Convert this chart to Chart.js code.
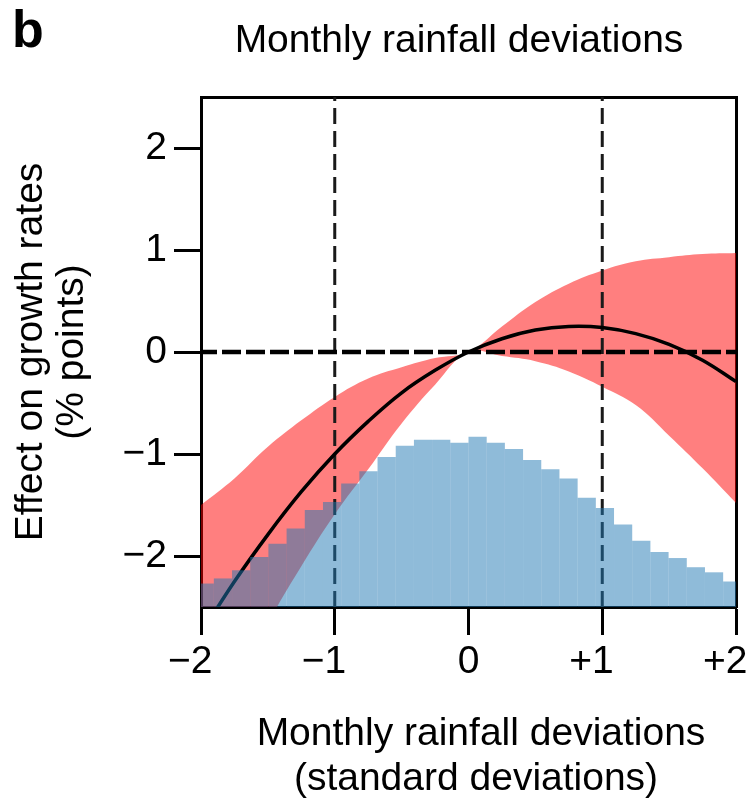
<!DOCTYPE html>
<html>
<head>
<meta charset="utf-8">
<script src="https://cdn.jsdelivr.net/npm/chart.js@4/dist/chart.umd.min.js"></script>
<style>
  html, body { margin: 0; padding: 0; background: #fff; }
  #c { display: block; }
</style>
</head>
<body>
<canvas id="c" width="751" height="802"></canvas>
<script>
// Monthly rainfall deviation grid (standard deviations) for the fitted response
const fitX = [-2, -1.75, -1.5, -1.25, -1, -0.75, -0.5, -0.25, 0, 0.25, 0.5, 0.75, 1, 1.25, 1.5, 1.75, 2];
// Estimated effect on growth rates (% points)
const effect = [-2.76, -2.25, -1.79, -1.37, -1.0, -0.68, -0.40, -0.18, 0, 0.13, 0.215, 0.25, 0.24, 0.18, 0.075, -0.08, -0.29];
// Confidence band
const upperCI = [-1.50, -1.24, -0.93, -0.67, -0.44, -0.26, -0.15, -0.06, 0, 0.25, 0.49, 0.67, 0.80, 0.89, 0.93, 0.96, 0.97];
const lowerCI = [-4.0, -3.3, -2.66, -2.10, -1.59, -1.15, -0.70, -0.32, 0, -0.04, -0.09, -0.19, -0.34, -0.52, -0.82, -1.14, -1.48];

// Distribution of observed monthly rainfall deviations (bin centres, bar tops)
const binCenters = [-1.972, -1.836, -1.700, -1.564, -1.428, -1.292, -1.156, -1.020, -0.884, -0.748,
                    -0.612, -0.476, -0.340, -0.204, -0.068, 0.068, 0.204, 0.340, 0.476, 0.612,
                    0.748, 0.884, 1.020, 1.156, 1.292, 1.428, 1.564, 1.700, 1.836, 1.972];
const binTops = [-2.27, -2.22, -2.14, -2.01, -1.88, -1.73, -1.55, -1.47, -1.29, -1.17,
                 -1.03, -0.92, -0.86, -0.86, -0.89, -0.83, -0.89, -0.95, -1.06, -1.15,
                 -1.24, -1.43, -1.53, -1.69, -1.85, -1.96, -2.02, -2.11, -2.16, -2.25];

const xTicks = [-2, -1, 0, 1, 2];
const yTicks = [-2, -1, 0, 1, 2];
const xRange = [-2, 2];
const yRange = [-2.5, 2.5];
const sdMarkers = [-1, 1];   // ±1 standard deviation
const zeroLine = 0;

const FONT = "'Liberation Sans', Arial, Helvetica, sans-serif";

const pts = (xs, ys) => xs.map((x, i) => ({ x: x, y: ys[i] }));

// Panel letter, heading and x-axis caption
const panelText = {
  id: 'panelText',
  afterDraw(chart) {
    const ctx = chart.ctx;
    ctx.save();
    ctx.fillStyle = '#000';
    ctx.textBaseline = 'alphabetic';
    ctx.textAlign = 'left';
    ctx.font = 'bold 52px ' + FONT;
    ctx.fillText('b', 12, 47);
    ctx.textAlign = 'center';
    ctx.font = '39px ' + FONT;
    ctx.fillText('Monthly rainfall deviations', 459, 52);
    ctx.fillText('Monthly rainfall deviations', 481, 745);
    ctx.fillText('(standard deviations)', 476, 790);
    ctx.restore();
  }
};

// Signed labels keep the digit centred on the tick; a figure space balances the sign
const tickFmtX = v => v < 0 ? '\u2212' + Math.abs(v) + '\u2007' : (v > 0 ? '+' + v + '\u2007' : '0');
const tickFmtY = v => v < 0 ? '\u2212' + Math.abs(v) : String(v);

new Chart(document.getElementById('c'), {
  type: 'line',
  data: {
    datasets: [
      {
        type: 'bar',
        label: 'Rainfall distribution',
        data: pts(binCenters, binTops),
        base: yRange[0],
        backgroundColor: 'rgba(31,120,180,0.5)',
        borderWidth: 0,
        barPercentage: 1,
        categoryPercentage: 1,
        inflateAmount: 0,
        clip: 0,
        order: 0
      },
      {
        label: 'Effect',
        data: pts(fitX, effect),
        borderColor: '#000',
        borderWidth: 3.5,
        pointRadius: 0,
        tension: 0.4,
        fill: false,
        order: 1
      },
      {
        label: 'Zero',
        data: pts(xRange, [zeroLine, zeroLine]),
        borderColor: '#000',
        borderWidth: 4.5,
        borderDash: [19, 5],
        borderDashOffset: 3,
        borderCapStyle: 'butt',
        pointRadius: 0,
        fill: false,
        order: 2
      },
      {
        label: '-1 SD',
        data: pts([sdMarkers[0], sdMarkers[0]], yRange),
        borderColor: '#1a1a1a',
        borderWidth: 3,
        borderDash: [16, 7],
        borderCapStyle: 'butt',
        pointRadius: 0,
        fill: false,
        order: 2
      },
      {
        label: '+1 SD',
        data: pts([sdMarkers[1], sdMarkers[1]], yRange),
        borderColor: '#1a1a1a',
        borderWidth: 3,
        borderDash: [16, 7],
        borderCapStyle: 'butt',
        pointRadius: 0,
        fill: false,
        order: 2
      },
      {
        label: 'Upper',
        data: pts(fitX, upperCI),
        borderWidth: 0,
        borderColor: 'rgba(0,0,0,0)',
        pointRadius: 0,
        tension: 0.4,
        fill: '+1',
        backgroundColor: 'rgba(255,0,0,0.5)',
        order: 3
      },
      {
        label: 'Lower',
        data: pts(fitX, lowerCI),
        borderWidth: 0,
        borderColor: 'rgba(0,0,0,0)',
        pointRadius: 0,
        tension: 0.4,
        fill: false,
        order: 3
      }
    ]
  },
  options: {
    responsive: false,
    animation: false,
    devicePixelRatio: 1,
    layout: { padding: { left: 0, top: 97, right: 15, bottom: 0 } },
    plugins: { legend: { display: false }, tooltip: { enabled: false } },
    scales: {
      x: {
        type: 'linear',
        position: 'bottom',
        z: 1,
        min: xRange[0],
        max: xRange[1],
        offset: false,
        afterBuildTicks: s => { s.ticks = xTicks.map(v => ({ value: v })); },
        afterFit: s => { s.height = 195; s.paddingLeft = 0; s.paddingRight = 0; },
        ticks: {
          font: { family: FONT, size: 39 },
          color: '#000',
          padding: 4,
          maxRotation: 0,
          autoSkip: false,
          callback: tickFmtX
        },
        grid: { display: true, offset: false, drawOnChartArea: false, drawTicks: true, tickLength: 28, tickWidth: 3, tickColor: '#000' },
        border: { display: true, width: 3, color: '#000' },
        title: { display: false }
      },
      y: {
        type: 'linear',
        position: 'left',
        min: yRange[0],
        max: yRange[1],
        afterBuildTicks: s => { s.ticks = yTicks.map(v => ({ value: v })); },
        afterFit: s => { s.width = 201; s.paddingTop = 0; s.paddingBottom = 0; },
        ticks: {
          font: { family: FONT, size: 39 },
          color: '#000',
          padding: 7,
          autoSkip: false,
          callback: tickFmtY
        },
        grid: { display: true, offset: false, drawOnChartArea: false, drawTicks: true, tickLength: 27, tickWidth: 3, tickColor: '#000' },
        border: { display: true, width: 3, color: '#000' },
        title: {
          display: true,
          text: ['Effect on growth rates', '(% points)'],
          font: { family: FONT, size: 39, lineHeight: 1.05 },
          color: '#000',
          padding: { top: 11, bottom: 0 }
        }
      },
      x2: {
        type: 'linear',
        position: 'top',
        display: true,
        ticks: { display: false },
        grid: { display: false },
        border: { display: true, width: 3, color: '#000' },
        afterFit: s => { s.height = 0; s.paddingLeft = 0; s.paddingRight = 0; }
      },
      y2: {
        type: 'linear',
        position: 'right',
        display: true,
        ticks: { display: false },
        grid: { display: false },
        border: { display: true, width: 3, color: '#000' },
        afterFit: s => { s.width = 0; s.paddingTop = 0; s.paddingBottom = 0; }
      }
    }
  },
  plugins: [panelText]
});
</script>
</body>
</html>
